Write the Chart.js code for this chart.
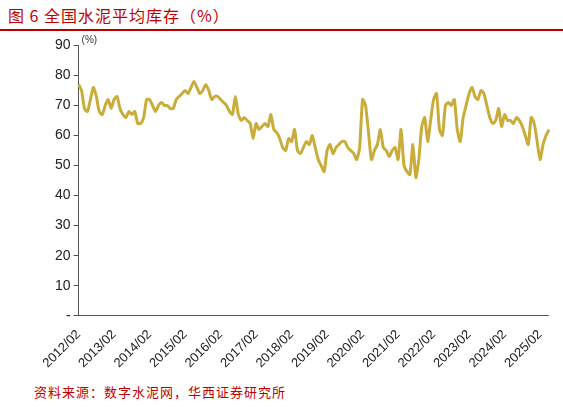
<!DOCTYPE html>
<html><head><meta charset="utf-8">
<script src="https://cdn.jsdelivr.net/npm/chart.js@4"></script>
<style>
body{margin:0;width:563px;height:407px;background:#fff;font-family:"Noto Sans CJK SC",sans-serif;position:relative;overflow:hidden}
#t{position:absolute;left:8px;top:3px;font-size:16px;color:#c00000;letter-spacing:1px}
#l{position:absolute;left:0;top:29px;width:563px;height:2px;background:#c00000}
#s{position:absolute;left:34px;top:382px;font-size:13px;color:#c00000;letter-spacing:1px}
#w{position:absolute;left:0;top:34px;width:563px;height:340px}
</style></head><body>
<div id="t">图 6 全国水泥平均库存（%）</div><div id="l"></div>
<div id="w"><canvas id="c"></canvas></div>
<div id="s">资料来源：数字水泥网，华西证券研究所</div>
<script>
const years=[2012,2013,2014,2015,2016,2017,2018,2019,2020,2021,2022,2023,2024,2025];
const inventory=[
77,75,69,68,72,76,73,68,67,70,72,69,
72,73,69,67,66,68,67,68,64,64,66,72,
72,70,68,70,71,70,70,69,69,72,73,74,
75,74,76,78,76,74,75,77,75,72,73,73,
72,71,70,68,67,73,67,65,66,65,64,59,
64,62,63,64,63,67,62,61,59,56,55,59,
58,62,55,54,56,58,57,60,56,52,50,48,
55,57,54,56,57,58,58,56,55,54,52,56,
72,70,61,52,55,57,62,56,55,53,55,56,
52,62,50,48,47,57,46,52,63,66,58,65,
72,74,62,60,70,71,70,72,62,58,66,70,
74,76,73,72,75,74,70,66,64,65,69,63,
67,65,65,64,66,65,63,60,57,66,64,58,
52,57,60,62];
const labels=inventory.map((v,i)=>{const y=2012+Math.floor((i+1)/12);const m=((i+1)%12)+1;return y+'/'+String(m).padStart(2,'0');});
new Chart(document.getElementById('c'),{type:'line',
data:{labels:labels,datasets:[{data:inventory,borderColor:'#c9ad3a',borderWidth:3,pointRadius:0,tension:0.2}]},
options:{responsive:true,maintainAspectRatio:false,animation:false,
layout:{padding:{left:52,right:10,top:8}},
plugins:{legend:{display:false},tooltip:{enabled:false}},
scales:{
x:{grid:{display:false},border:{color:'#555'},ticks:{autoSkip:false,maxRotation:45,minRotation:45,color:'#222',font:{size:13,family:'Liberation Sans'},
 callback:function(v,i){return i%12===0?labels[i]:'';}}},
y:{min:0,max:90,grid:{display:true,drawOnChartArea:false,tickLength:5,color:'#555'},border:{color:'#555'},ticks:{stepSize:10,color:'#222',font:{size:14,family:'Liberation Sans'},callback:v=>v===0?'-':v}}
}},
plugins:[{id:'u',afterDraw(ch){const c=ch.ctx,a=ch.chartArea;c.save();c.fillStyle='#333';c.font='10px Liberation Sans';c.fillText('(%)',a.left+3,a.top-2);c.restore();}}]
});
</script></body></html>
